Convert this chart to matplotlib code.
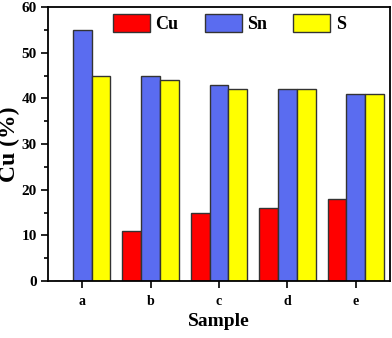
import matplotlib
matplotlib.use("Agg")
import matplotlib.pyplot as plt
import numpy as np

samples = ["a", "b", "c", "d", "e"]
cu = [0, 11, 15, 16, 18]
sn = [55, 45, 43, 42, 41]
s = [45, 44, 42, 42, 41]

plt.rcParams['font.family'] = ['Liberation Serif', 'DejaVu Serif']
plt.rcParams['font.weight'] = 'bold'

fig = plt.figure(figsize=(3.92, 3.38), dpi=100)
ax = fig.add_axes([0.1224, 0.1686, 0.8726, 0.8104])

x = np.arange(len(samples))
w = 0.275
ec = '#333333'
ax.bar(x - w, cu, w, color='#FF0000', edgecolor=ec, linewidth=1, label='Cu')
ax.bar(x, sn, w, color='#5A6CF0', edgecolor=ec, linewidth=1, label='Sn')
ax.bar(x + w, s, w, color='#FFFF00', edgecolor=ec, linewidth=1, label='S')

ax.set_xlim(-0.5, 4.5)
ax.set_ylim(0, 60)
ax.set_xticks(x)
ax.set_xticklabels(samples, fontsize=10, fontweight='bold')
ax.set_yticks(range(0, 61, 10))
ax.set_yticks(range(5, 60, 10), minor=True)
ax.tick_params(axis='y', which='major', labelsize=11, length=5, width=1.2, direction='out', pad=3)
ax.tick_params(axis='y', which='minor', length=3, width=1.2, direction='out')
ax.tick_params(axis='x', length=5, width=1.2, direction='out', pad=5)
for lab in ax.get_yticklabels():
    lab.set_fontweight('bold')
for sp in ax.spines.values():
    sp.set_linewidth(1.3)

ax.set_ylabel('Cu (%)', fontsize=17, fontweight='bold', labelpad=1)
ax.set_xlabel('Sample', fontsize=14, fontweight='bold', labelpad=4)

ax.legend(loc='upper left', ncol=3, frameon=False, bbox_to_anchor=(0.19, 0.975),
          prop={'size': 13, 'weight': 'bold'}, handlelength=2.05, handleheight=1.15,
          columnspacing=1.45, handletextpad=0.3, borderaxespad=0, borderpad=0)

fig.savefig('out.png', dpi=100)
